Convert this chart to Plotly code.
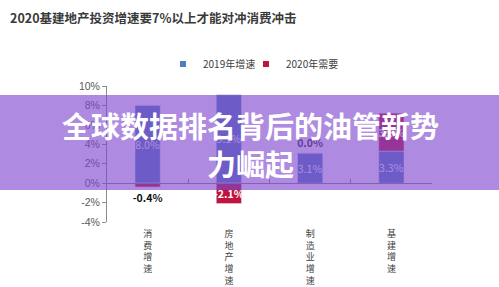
import plotly.graph_objects as go

categories = ["消<br>费<br>增<br>速", "房<br>地<br>产<br>增<br>速", "制<br>造<br>业<br>增<br>速", "基<br>建<br>增<br>速"]
growth_2019 = [8.0, 9.1, 3.1, 3.3]
need_2020 = [-0.4, -2.1, 0.0, 3.9]
series_names = ["2019年增速", "2020年需要"]
ytick_vals = [-4, -2, 0, 2, 4, 6, 8, 10]
ytick_text = [f"{v}%" for v in ytick_vals]

BLUE = "#4f7fbd"
RED = "#c0143c"
FONT = "Noto Sans CJK SC, Liberation Sans, sans-serif"

W, H = 499, 287
ML, MR, MT, MB = 107, 67, 86, 65
pw = W - ML - MR
ph = H - MT - MB

def py(pix):
    return (H - MB - pix) / ph

def px(pix):
    return (pix - ML) / pw

fig = go.Figure()
fig.add_trace(go.Bar(
    x=categories, y=growth_2019, name=series_names[0], marker_color=BLUE,
    text=[f"{v:.1f}%" for v in growth_2019], textposition="inside",
    insidetextanchor="middle", textangle=0, constraintext="none",
    textfont=dict(color="white", size=10.5, family=FONT),
    showlegend=False,
))
fig.add_trace(go.Bar(
    x=categories, y=need_2020, name=series_names[1], marker_color=RED,
    text=[f"{v:.1f}%" for v in need_2020], texttemplate="<b>%{text}</b>",
    textposition=["outside", "inside", "outside", "inside"],
    insidetextanchor="middle", textangle=0, constraintext="none",
    insidetextfont=dict(color="white", size=10.5, family=FONT),
    outsidetextfont=dict(color=["#111111", "#333333", "#2a2a4a", "#333333"], size=10.5, family=FONT),
    cliponaxis=False, showlegend=False,
))
# legend entries with small square markers, one legend each
for name, col, lg in zip(series_names, [BLUE, RED], ["legend", "legend2"]):
    fig.add_trace(go.Scatter(x=[None], y=[None], mode="markers", name=name, legend=lg,
                             marker=dict(symbol="square", size=6, color=col)))

# zero-line axis with boundary ticks
fig.add_trace(go.Scatter(x=[None], y=[None], xaxis="x2", showlegend=False))

leg_common = dict(orientation="h", xanchor="left", y=py(64), yanchor="middle",
                  font=dict(size=10, color="#404040"), itemwidth=30,
                  bgcolor="rgba(0,0,0,0)")

fig.update_layout(
    width=W, height=H, margin=dict(l=ML, r=MR, t=MT, b=MB, autoexpand=False),
    paper_bgcolor="white", plot_bgcolor="white",
    barmode="relative", bargap=0.69,
    font=dict(family=FONT, color="#595959", size=10),
    showlegend=True,
    legend=dict(x=px(163), **leg_common),
    legend2=dict(x=px(246), **leg_common),
    xaxis=dict(type="category", showline=False, ticks="", showgrid=False, zeroline=False,
               tickfont=dict(size=9, color="#404040", family=FONT), ticklabelstandoff=5,
               automargin=False, range=[-0.5, 3.5]),
    xaxis2=dict(overlaying="x", anchor="free", position=py(183), range=[-0.5, 3.5],
                showline=True, linecolor="#8c8c8c", linewidth=1,
                tickvals=[-0.5, 0.5, 1.5, 2.5, 3.5], ticks="inside", ticklen=4,
                tickcolor="#8c8c8c", showticklabels=False, showgrid=False, zeroline=False),
    yaxis=dict(range=[-4, 10], tickvals=ytick_vals, ticktext=ytick_text, automargin=False,
               showline=True, linecolor="#8c8c8c", linewidth=1, ticks="outside",
               ticklen=4, tickcolor="#8c8c8c", showgrid=False, zeroline=False,
               tickfont=dict(size=10.5, color="#595959", family="Liberation Sans, Noto Sans CJK SC")),
    title=dict(text="<b>2020基建地产投资增速要7%以上才能对冲消费冲击</b>", x=10 / W, xanchor="left",
               y=1 - 19 / H, yanchor="middle", xref="container", yref="container",
               font=dict(size=12.5, color="#3a3a3a", family=FONT)),
)

# purple overlay banner with white headline
fig.add_shape(type="rect", xref="paper", yref="paper", x0=px(0), x1=px(W), y0=py(190), y1=py(95),
              fillcolor="rgba(126,71,206,0.63)", line_width=0, layer="above")
fig.add_annotation(text="<b>全球数据排名背后的油管新势<br>力崛起</b>", xref="paper", yref="paper",
                   x=px(250), y=py(143.5), showarrow=False, xanchor="center", yanchor="middle",
                   font=dict(size=29, color="white", family=FONT))

fig.write_html("out.html")
